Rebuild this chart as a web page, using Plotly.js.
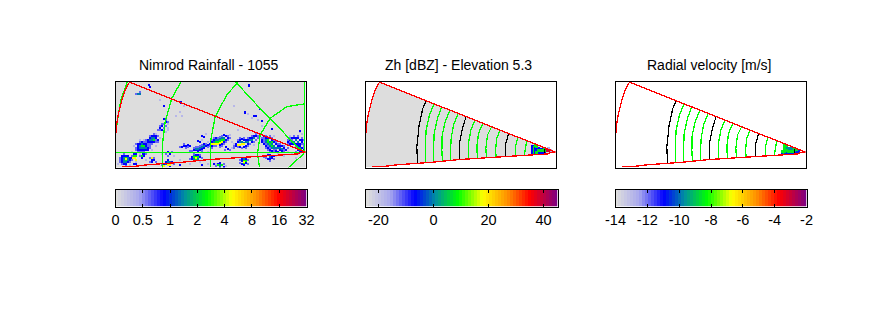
<!DOCTYPE html>
<html><head><meta charset="utf-8">
<script src="https://cdn.plot.ly/plotly-3.0.1.min.js"></script>
<style>
html,body{margin:0;padding:0;background:#fff}
.scatterlayer path{shape-rendering:crispEdges}
</style></head><body><div id="chart" style="width:889px;height:333px"></div>
<script>
const panelTitles = ['Nimrod Rainfall - 1055','Zh [dBZ] - Elevation 5.3','Radial velocity [m/s]'];
const barVals = [[0,1,2,3,4,5,6,7],[-20,0,20,40],[-14,-12,-10,-8,-6,-4,-2]];
const barText = [['0','0.5','1','2','4','8','16','32'],['-20','0','20','40'],['-14','-12','-10','-8','-6','-4','-2']];
const barRange = [[0,7],[-24.7,45.1],[-14,-2]];
const levels = [0,1,2,3,4,5,6,7,8,9,10,11,12,13,14,15,16,17,18,19,20,21,22,23,24,25,26,27,28,29,30,31,32,33,34,35,36,37,38,39,40,41,42,43,44,45,46,47,48,49,50,51,52,53,54,55,56,57,58,59,60,61,62,63];
const palette = [[0,'#dddddd'],[0.12,'#a8a8ee'],[0.25,'#0000ff'],[0.36,'#0090a0'],[0.48,'#00ff00'],[0.61,'#ffff00'],[0.74,'#ff9000'],[0.86,'#ff0000'],[1,'#800080']];

const sectorEdge = [[88,97],[616,306],[598,310],[66,350],[46,352],[46,250],[48,245],[50,220],[55,190],[65,150],[75,120],[88,97]];
const redUpper = [[88,97],[616,306]];
const redLower = [[66,350],[100,349],[140,344],[185,341],[250,336],[330,328],[380,325],[445,320],[520,315],[598,311],[600,307],[616,306]];
const redArc = [[88,97],[75,120],[65,150],[55,190],[50,220],[48,248]];
const blackRings = [
 [[229,152],[218,175],[207,225],[200,290],[202,341]],
 [[348,199],[337,235],[329,275],[327,330]],
 [[475,251],[467,280],[466,320]],
 [[584,297],[583,310]]
];
const greenRings = [
 [[251,163],[238,195],[228,240],[225,290],[226,338]],
 [[274,173],[262,205],[252,250],[250,300],[251,335]],
 [[299,182],[286,212],[276,255],[275,300],[277,333]],
 [[323,192],[310,225],[303,265],[301,300],[302,330]],
 [[374,211],[362,240],[354,285],[355,327]],
 [[398,220],[385,250],[380,290],[382,325]],
 [[424,231],[412,255],[407,295],[409,323]],
 [[450,240],[440,265],[436,300],[438,321]],
 [[503,263],[497,285],[496,316]],
 [[529,274],[525,295],[523,314]],
 [[553,283],[549,300],[551,312]]
];
const gridLines = [
 [[46,307],[616,307]],
 [[613,95],[613,307]],
 [[82,95],[62,150],[52,210],[47,250]],
 [[243,95],[215,145],[195,215],[186,290],[186,352]],
 [[415,95],[380,135],[345,200],[330,280],[331,352]],
 [[613,162],[560,170],[510,205],[480,255],[472,310],[478,352]],
 [[405,95],[470,165],[520,215],[590,290],[616,307]],
 [[612,310],[565,352]]
];
const rainPale = [[198,204],[204,222],[192,240],[204,240],[228,198],[240,186],[246,198],[132,270],[120,270],[168,252],[180,264],[102,288],[156,300],[120,312],[138,330],[96,306],[54,342],[90,345],[186,312],[222,318],[240,330],[270,342],[300,336],[324,306],[324,276],[390,255],[396,276],[402,282],[480,252],[396,294],[462,285],[480,264],[534,312],[522,258],[570,258],[600,246],[606,252],[486,228],[474,210],[528,318],[504,309],[552,318],[576,312],[594,312],[564,306],[444,192],[456,204],[348,342],[378,348],[324,342],[252,168],[180,150],[414,240],[402,168],[588,324],[204,234],[198,246],[168,288],[108,336],[306,270],[318,252]];
const rainMid = [[72,312],[60,324],[60,330],[96,330],[60,336],[90,336],[78,348],[66,342],[108,282],[108,294],[120,276],[132,276],[138,276],[108,300],[150,294],[150,288],[144,282],[144,288],[120,306],[132,306],[126,306],[138,270],[150,258],[174,258],[174,276],[168,270],[168,276],[162,252],[156,282],[150,282],[186,222],[180,228],[192,234],[174,240],[180,240],[192,222],[198,210],[204,216],[198,228],[276,303],[282,294],[288,291],[294,291],[300,288],[306,285],[318,282],[324,291],[306,303],[270,303],[252,282],[240,291],[258,294],[264,291],[330,288],[336,294],[342,288],[348,288],[360,291],[366,288],[372,282],[378,276],[384,270],[390,264],[384,258],[366,258],[360,261],[354,264],[342,264],[336,270],[402,288],[402,294],[414,291],[426,294],[438,294],[444,288],[450,282],[462,276],[468,270],[474,264],[474,258],[468,252],[456,258],[444,264],[432,264],[420,264],[414,270],[486,264],[492,264],[492,270],[492,276],[498,282],[504,288],[504,300],[498,294],[510,294],[510,306],[522,306],[522,300],[528,300],[534,282],[528,276],[522,270],[516,264],[510,258],[498,258],[540,282],[552,288],[564,294],[552,300],[552,306],[564,270],[570,264],[582,258],[594,258],[606,264],[612,270],[612,282],[606,282],[570,276],[576,270],[564,282],[588,288],[612,288],[612,294],[588,294],[588,306],[492,321],[498,324],[522,327],[510,333],[420,330],[444,330],[420,339],[444,342],[348,348],[372,342],[390,300],[375,300],[270,327],[306,324],[300,315],[282,312],[204,318],[198,312],[216,306],[186,345],[222,342],[120,318],[138,312],[150,324],[150,336],[168,336],[162,324],[96,318],[114,306],[108,132],[120,126]];
const rainBlue = [[150,112],[147,105],[192,168],[243,158],[447,107],[435,188],[462,198],[468,198],[480,177],[486,213],[516,237],[600,243],[186,228],[180,234],[186,240],[198,216],[192,207],
 [66,318],[72,318],[78,318],[84,318],[66,324],[90,324],[66,330],[90,330],[66,336],[84,336],[72,342],[78,342],[102,312],[108,312],[96,324],[102,342],[108,342],[130,312],[132,318],[126,324],[156,330],[162,330],[156,336],[204,306],[210,312],[192,342],[198,336],[204,330],[216,336],[210,348],
 [114,282],[120,282],[126,276],[132,282],[138,282],[114,288],[138,288],[144,294],[114,294],[120,300],[126,300],[132,300],[138,300],[144,300],[114,300],[144,270],[150,264],[156,258],[162,258],[168,258],[168,264],[162,276],[156,276],[150,276],[144,276],[174,270],
 [246,291],[252,288],[258,288],[264,285],[270,288],[294,273],[300,276],[282,300],[288,300],[294,303],[300,300],[306,297],[312,294],[318,288],[312,282],[306,258],[312,261],[324,285],
 [336,288],[330,282],[336,276],[342,270],[348,264],[354,276],[360,285],[366,282],[372,276],[378,270],[384,264],[372,255],[378,258],
 [408,288],[408,282],[414,276],[420,270],[426,267],[432,270],[438,270],[444,270],[450,264],[456,264],[462,258],[468,258],[456,276],[444,282],[438,288],[432,291],[420,291],
 [492,258],[498,264],[504,264],[510,264],[516,270],[522,276],[528,282],[534,288],[540,288],[546,288],[552,294],[558,300],[540,300],[546,303],[534,306],[528,303],[516,303],[510,300],[504,294],[498,288],[492,282],[486,276],[486,270],
 [570,270],[576,264],[582,264],[588,264],[594,264],[600,270],[606,270],[606,276],[600,282],[594,282],[588,282],[582,282],[576,282],[570,282],[564,276],
 [594,288],[600,288],[606,294],[594,300],[600,306],[606,306],[612,300],
 [498,318],[504,315],[510,315],[516,318],[522,318],[504,327],[510,327],[516,324],
 [426,327],[438,327],[426,333],[438,339],[426,342],[432,345],[378,291],[384,297],[354,342],[360,339],[366,345],[372,351],[276,321],[276,327],[300,321],[282,333],[288,315],[294,315],[306,345],[240,345],[342,342]];
const rainTeal = [[114,132],[120,132],[72,324],[84,324],[72,330],[84,330],[72,336],[78,336],[126,282],[120,288],[126,294],[132,294],[120,294],[138,294],[150,270],[156,264],[162,264],[156,270],[204,336],[198,342],[210,336],[300,294],[306,291],[312,288],[288,297],[294,297],[342,276],[348,270],[354,270],[360,267],[366,264],[372,264],[354,282],[420,276],[426,276],[432,279],[438,276],[444,276],[450,270],[456,270],[462,264],
 [498,270],[504,270],[498,276],[504,282],[510,276],[510,288],[516,282],[516,294],[522,288],[522,294],[528,294],[534,294],[540,294],[546,297],[576,276],[582,276],[588,270],[594,276],[600,294],[600,300],[510,321],[282,318],[294,327],[282,327],[432,327],[360,345],[360,351],[438,333]];
const rainGreen = [[78,324],[78,330],[108,318],[102,318],[132,288],[126,288],[162,270],[288,321],[294,321],[282,321],[288,327],[204,342],[210,342],[348,276],[354,276],[360,273],[366,270],[372,270],[504,276],[510,282],[516,288],[504,270],[516,276],[432,333],[438,333],[432,339],[366,345],[354,345],[126,318],[102,324]];
const rainYellow = [[105,324],[99,324],[108,330],[78,327],[336,282],[342,282],[348,282],[354,282],[360,279],[414,285],[420,285],[426,282],[432,282],[366,276],[288,324],[432,336],[204,345],[210,345],[192,348],[156,324]];
const zhPale = [[552,291],[546,303],[594,294],[600,300]];
const zhBlue = [[546,288],[552,288],[546,294],[552,297],[546,300],[552,306],[546,306],[558,294],[564,294],[558,300],[570,297],[576,297],[564,306],[570,306],[576,306],[582,303]];
const zhGreen = [[558,306],[564,300],[570,300],[576,300],[582,297],[588,300],[594,300],[558,288]];
const zhWarm = [[588,297],[591,303],[597,303]];
const velBlue = [[546,306],[552,306],[558,306],[564,306],[570,306],[576,306],[582,306],[588,303],[594,303]];
const velTeal = [[558,294],[564,294],[570,294],[576,297],[582,300],[564,300],[570,300]];
const velGreen = [[546,303],[552,285],[552,291],[558,285],[552,297],[558,300],[576,303],[570,303],[582,294],[588,297],[552,303],[564,303]];

const data=[], annotations=[], layout={};
const panelX=[115.5,365.5,615.5], barX=[[115.5,306.5],[365.5,557.5],[615.5,806.5]];
const W=889,H=333;
function line(pts,color,w,ax){return {type:'scatter',mode:'lines',x:pts.map(p=>p[0]),y:pts.map(p=>p[1]),line:{color:color,width:w,shape:'linear'},xaxis:ax[0],yaxis:ax[1],hoverinfo:'skip',showlegend:false};}
function dots(pts,v,ax,size){return {type:'scatter',mode:'markers',x:pts.map(p=>p[0]),y:pts.map(p=>p[1]),marker:{symbol:'square',size:size,color:pts.map(()=>v),cmin:0,cmax:7,colorscale:palette,line:{width:0}},xaxis:ax[0],yaxis:ax[1],hoverinfo:'skip',showlegend:false};}
[0,1,2].forEach(i=>{
  const n=i*2+1,a=['x'+(n===1?'':n),'y'+(n===1?'':n)],b=['x'+(n+1),'y'+(n+1)];
  const keyX='xaxis'+(n===1?'':n),keyY='yaxis'+(n===1?'':n);
  layout[keyX]={domain:[panelX[i]/W,(panelX[i]+190)/W],range:[46,616],showgrid:false,zeroline:false,showticklabels:false,ticks:'',showline:true,mirror:true,linecolor:'#000',linewidth:1,fixedrange:true};
  layout[keyY]={domain:[(H-167.5)/H,(H-81.5)/H],range:[352,95],showgrid:false,zeroline:false,showticklabels:false,ticks:'',showline:true,mirror:true,linecolor:'#000',linewidth:1,fixedrange:true};
  if(i===0){
    layout[keyX].layer='above traces';layout[keyY].layer='above traces';
    data.push({type:'scatter',mode:'lines',x:[46,616,616,46,46],y:[95,95,352,352,95],fill:'toself',fillcolor:'#dddddd',line:{width:0},xaxis:a[0],yaxis:a[1],hoverinfo:'skip',showlegend:false});
    data.push(dots(rainPale,0.6,a,2.2),dots(rainMid,1.2,a,2.5),dots(rainBlue,1.75,a,2.5),dots(rainTeal,2.4,a,2.5),dots(rainGreen,3.3,a,2.5),dots(rainYellow,4.3,a,2));
    gridLines.forEach(g=>data.push(line(g,'#00ff00',1.3,a)));
  } else {
    if(i===1) data.push({type:'scatter',mode:'lines',x:sectorEdge.map(p=>p[0]),y:sectorEdge.map(p=>p[1]),fill:'toself',fillcolor:'#dddddd',line:{width:0},xaxis:a[0],yaxis:a[1],hoverinfo:'skip',showlegend:false});
    if(i===1) data.push(dots(zhPale,0.75,a,3),dots(zhBlue,1.75,a,3),dots(zhGreen,3.2,a,3),dots(zhWarm,6.4,a,2));
    else data.push(dots(velBlue,1.9,a,3),dots(velTeal,2.5,a,3),dots(velGreen,3.2,a,3));
    greenRings.forEach(g=>data.push(line(g,'#00ff00',1.3,a)));
    blackRings.forEach(g=>data.push(line(g,'#000',1.2,a)));
  }
  data.push(line(redUpper,'#ff0000',1.3,a),line(redLower,'#ff0000',1.3,a),line(redArc,'#ff0000',1.3,a));
  const r=barRange[i],dx=(r[1]-r[0])/levels.length;
  data.push({type:'heatmap',z:[levels],x0:r[0]+dx/2,dx:dx,y0:0,dy:1,zmin:0,zmax:63,colorscale:palette,showscale:false,xaxis:b[0],yaxis:b[1],hoverinfo:'skip'});
  layout['xaxis'+(n+1)]={domain:[barX[i][0]/W,barX[i][1]/W],range:r,tickmode:'array',tickvals:barVals[i],ticktext:barText[i],ticks:'inside',ticklen:3,tickwidth:1,tickcolor:'#000',showline:true,mirror:'allticks',linecolor:'#000',linewidth:1,showgrid:false,zeroline:false,tickfont:{family:'Liberation Sans',size:14.5,color:'#000'},anchor:b[1],fixedrange:true,layer:'above traces'};
  layout['yaxis'+(n+1)]={domain:[(H-206.5)/H,(H-189.5)/H],range:[-0.5,0.5],showticklabels:false,ticks:'',showline:true,mirror:true,linecolor:'#000',linewidth:1,showgrid:false,zeroline:false,anchor:b[0],fixedrange:true};
  layout[keyX].anchor=a[1];layout[keyY].anchor=a[0];
  annotations.push({text:panelTitles[i],xref:'paper',yref:'paper',x:[208.5,458.5,709][i]/W,y:(H-65)/H,xanchor:'center',yanchor:'middle',showarrow:false,font:{family:'Liberation Sans',size:14,color:'#000'}});
});
Object.assign(layout,{width:W,height:H,margin:{l:0,r:0,t:0,b:0},paper_bgcolor:'#fff',plot_bgcolor:'#fff',showlegend:false,annotations:annotations});
Plotly.newPlot('chart',data,layout,{displayModeBar:false,staticPlot:true});
</script></body></html>
